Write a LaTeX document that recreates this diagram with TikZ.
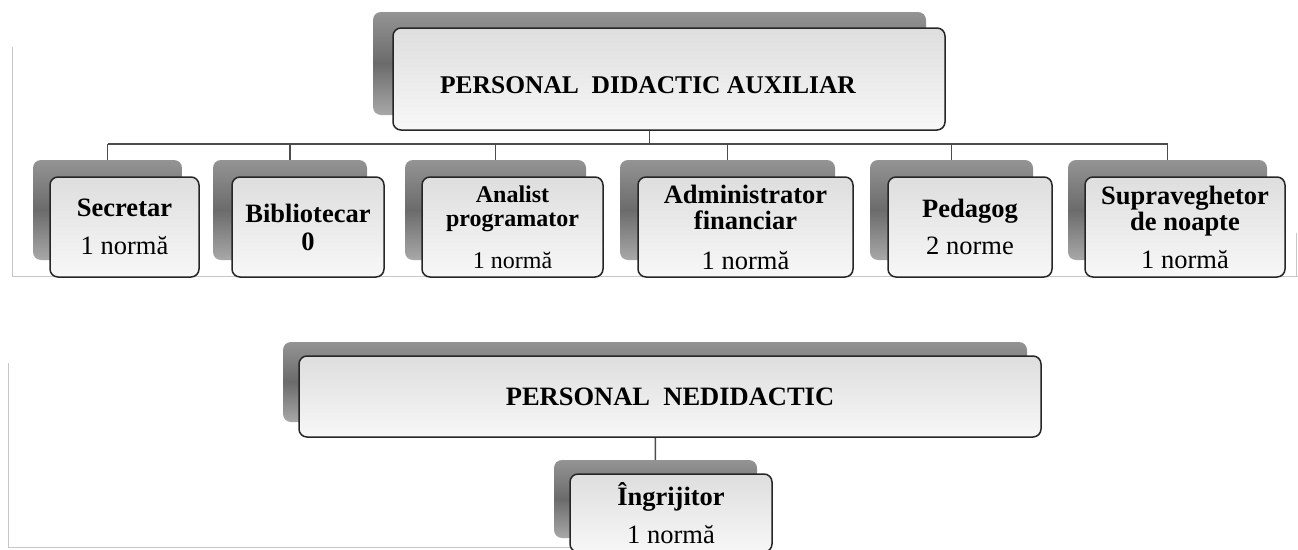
\documentclass[tikz,border=0pt]{standalone}
\usepackage{fontspec}
\setmainfont{Liberation Serif}
\usetikzlibrary{backgrounds}

\tikzset{
  shbox/.style={rounded corners=8pt, top color=black!42, bottom color=black!34,
    middle color=black!58, minimum height=100pt, inner sep=0pt},
  frbox/.style={draw=black!85, line width=1.5pt, rounded corners=8pt,
    top color=black!13, bottom color=black!3, minimum height=100pt,
    inner sep=0pt, align=center, font=\fontsize{26.5}{26}\selectfont},
  titletxt/.style={font=\fontsize{25.5}{26}\selectfont\bfseries},
  link/.style={draw=black!70, line width=1.5pt},
  scanline/.style={draw=black!22, line width=0.8pt}
}

\begin{document}
\begin{tikzpicture}[x=1pt,y=-1pt]
  \path[use as bounding box, clip] (0,0) rectangle (1298,549);

  % personal didactic auxiliar
  \node[shbox, minimum width=553pt, minimum height=103pt] (auxsh) at (649.5,63.5) {};
  \node[frbox, minimum width=552pt, minimum height=102pt] (aux) at (669,79) {};
  \node[titletxt] (auxtitle) at (648,85) {PERSONAL\ \ DIDACTIC AUXILIAR};

  \node[shbox, minimum width=149pt] (secsh) at (107.5,210) {};
  \node[frbox, minimum width=149pt] (sec) at (124.5,227) {\textbf{Secretar}\\[12pt]1 normă};

  \node[shbox, minimum width=154pt] (bibsh) at (290,210) {};
  \node[frbox, minimum width=152pt] (bib) at (308,227) {\textbf{Bibliotecar}\\[2pt]\textbf{0}};

  \node[shbox, minimum width=181pt] (anash) at (495.5,210) {};
  \node[frbox, minimum width=181pt, font=\fontsize{24}{24}\selectfont] (ana) at (512.5,227)
    {\textbf{Analist}\\\textbf{programator}\\[18pt]1 normă};

  \node[shbox, minimum width=215pt] (admsh) at (727.5,210) {};
  \node[frbox, minimum width=215pt] (adm) at (745.5,227)
    {\textbf{Administrator}\\\textbf{financiar}\\[14pt]1 normă};

  \node[shbox, minimum width=163pt] (pedsh) at (951.5,210) {};
  \node[frbox, minimum width=164pt] (ped) at (970,227) {\textbf{Pedagog}\\[11pt]2 norme};

  \node[shbox, minimum width=199pt] (supsh) at (1167.5,210) {};
  \node[frbox, minimum width=200pt] (sup) at (1185,227)
    {\textbf{Supraveghetor}\\\textbf{de noapte}\\[12pt]1 normă};

  % personal nedidactic
  \node[shbox, minimum width=744pt, minimum height=80pt] (nedsh) at (655,382) {};
  \node[frbox, minimum width=742pt, minimum height=81pt] (ned) at (670,396.5)
    {\textbf{PERSONAL\ \ NEDIDACTIC}};

  \node[shbox, minimum width=203pt, minimum height=78pt] (ingsh) at (655.5,499) {};
  \node[frbox, minimum width=202pt, minimum height=78pt] (ing) at (671,513)
    {\textbf{Îngrijitor}\\[12pt]1 normă};

  \coordinate (bar) at (0,144);
  \begin{scope}[on background layer]
    \draw[scanline] (12,47) -- (12,276) -- (1298,276);
    \draw[scanline] (1296,233) -- (1296,276);
    \draw[scanline] (8,363) -- (8,547) -- (570,547);

    \draw[link] (auxsh.center) -- (auxsh.center |- bar);
    \draw[link] (secsh.center |- bar) -- (supsh.center |- bar);
    \draw[link] (secsh.center |- bar) -- (secsh.center);
    \draw[link] (bibsh.center |- bar) -- (bibsh.center);
    \draw[link] (anash.center |- bar) -- (anash.center);
    \draw[link] (admsh.center |- bar) -- (admsh.center);
    \draw[link] (pedsh.center |- bar) -- (pedsh.center);
    \draw[link] (supsh.center |- bar) -- (supsh.center);
    \draw[link] (nedsh.center) -- (ingsh.center);
  \end{scope}
\end{tikzpicture}
\end{document}
